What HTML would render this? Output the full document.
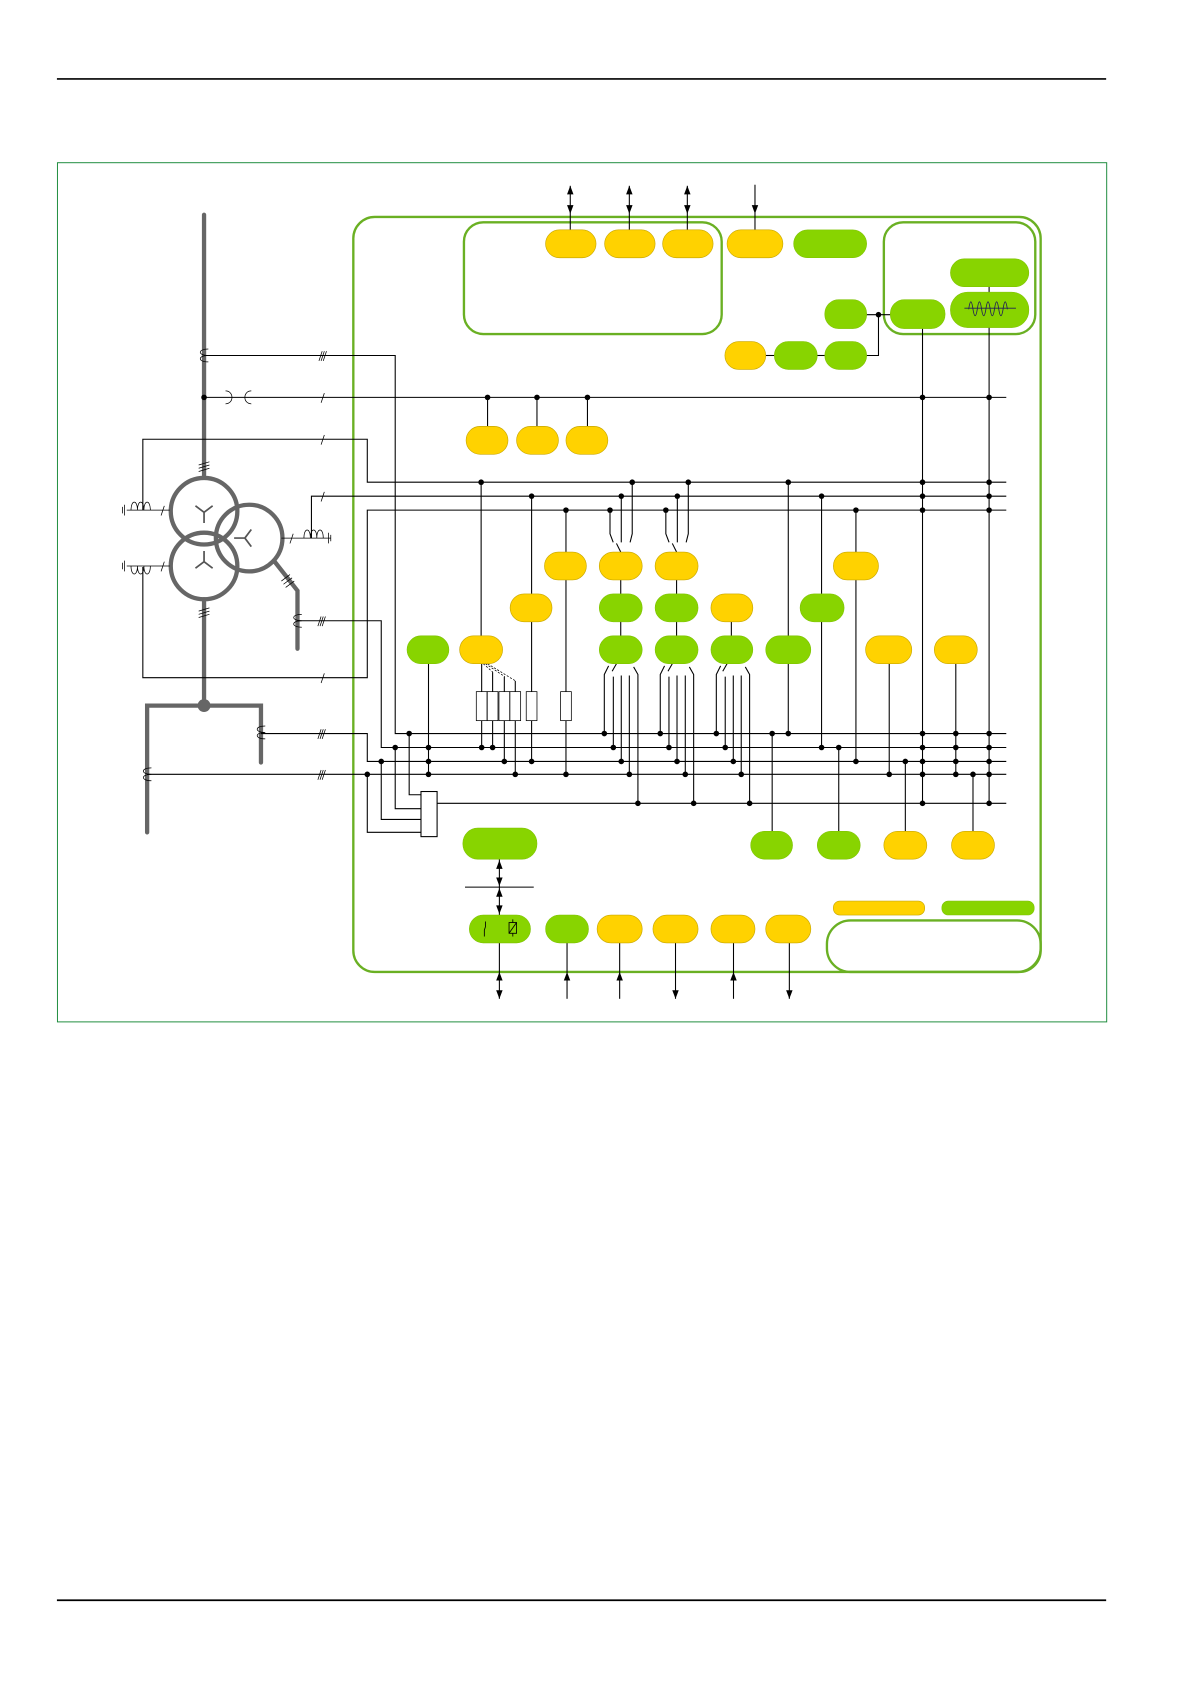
<!DOCTYPE html>
<html><head><meta charset="utf-8"><style>
html,body{margin:0;padding:0;background:#fff;}
svg{display:block;}
.y{fill:#ffd200;stroke:#c9a800;stroke-width:0.6}
.g{fill:#88d400;stroke:#7cc000;stroke-width:0.5}
.w{stroke:#000;stroke-width:1;fill:none}
.t{stroke:#000;stroke-width:0.7;fill:none}
.f{fill:none;stroke:#6ab023;stroke-width:2.2}
.p{stroke:#666;stroke-width:4;fill:none;stroke-linecap:round}
</style></head><body>
<svg width="1191" height="1684" viewBox="0 0 1109 1568" preserveAspectRatio="none" xmlns="http://www.w3.org/2000/svg">
<line x1="53" y1="73.5" x2="1030" y2="73.5" stroke="#000" stroke-width="1.6"/>
<line x1="53" y1="1490" x2="1030" y2="1490" stroke="#000" stroke-width="1.6"/>
<rect x="53.5" y="151.5" width="977" height="800" fill="none" stroke="#1a8a3a" stroke-width="0.9"/>

<rect class="f" x="329" y="202" width="640" height="703" rx="20"/>
<rect class="f" x="432" y="207" width="240" height="104" rx="18"/>
<rect class="f" x="823" y="207" width="141" height="104" rx="18"/>
<rect class="f" x="770" y="857" width="199" height="48" rx="22"/>

<g class="p">
<line x1="190" y1="200" x2="190" y2="443"/>
<line x1="190" y1="558" x2="190" y2="657"/>
<polyline points="137,775 137,657 243,657 243,710"/>
<polyline points="255,522 277,550 277,604"/>
<circle cx="190" cy="476" r="31"/>
<circle cx="232" cy="501" r="31"/>
<circle cx="190" cy="527" r="31"/>
</g>
<circle cx="190" cy="657" r="6" fill="#666"/>
<g stroke="#555" stroke-width="1.6" fill="none">
<path d="M190,477 v10 M190,477 l-8,-6 M190,477 l8,-6"/>
<path d="M190,523 v-10 M190,523 l-8,6 M190,523 l8,6"/>
<path d="M228,501 h-10 M228,501 l6,-8 M228,501 l6,8"/>
</g>
<g class="t">
<path d="M185,433 l10,-3 M185,436 l10,-3 M185,439 l10,-3"/>
<path d="M185,569 l10,-3 M185,572 l10,-3 M185,575 l10,-3"/>
<path d="M262,541 l8,-6 M264,544 l8,-6 M266,547 l8,-6"/>
<path d="M194,325 c-10,0 -10,6 0,6 c-10,0 -10,6 0,6"/>
<path d="M210,364 c8,0 8,12 0,12 M234,364 c-8,0 -8,12 0,12"/>
<path d="M281,572 c-10,0 -10,6 0,6 c-10,0 -10,6 0,6"/>
<path d="M247,676 c-10,0 -10,6 0,6 c-10,0 -10,6 0,6"/>
<path d="M141,715 c-10,0 -10,6 0,6 c-10,0 -10,6 0,6"/>
<path d="M118,475 h40 M122,475 c0,-10 6,-10 6,0 c0,-10 6,-10 6,0 c0,-10 6,-10 6,0 M116,470 v10 M114,472 v6"/>
<path d="M118,527 h40 M122,527 c0,10 6,10 6,0 c0,10 6,10 6,0 c0,10 6,10 6,0"/>
<path d="M116,522 v10 M114,524 v6"/>
<path d="M262,501 h46 M283,501 c0,-10 6,-10 6,0 c0,-10 6,-10 6,0 c0,-10 6,-10 6,0 M306,496 v10 M308,498 v6"/>
<path d="M297,336 l3,-9 M299,336 l3,-9 M301,336 l3,-9"/>
<path d="M299,375 l3,-9"/><path d="M299,414 l3,-9"/><path d="M299,467 l3,-9"/><path d="M299,636 l3,-9"/>
<path d="M150,480 l3,-9"/><path d="M150,532 l3,-9"/><path d="M270,506 l3,-9"/>
<path d="M296,583 l3,-9 M298,583 l3,-9 M300,583 l3,-9"/>
<path d="M296,688 l3,-9 M298,688 l3,-9 M300,688 l3,-9"/>
<path d="M296,726 l3,-9 M298,726 l3,-9 M300,726 l3,-9"/>
</g>

<g class="w">
<line x1="190" y1="370" x2="937" y2="370"/>
<polyline points="133,475 133,409 342,409 342,449 937,449"/>
<polyline points="290,501 290,462 937,462"/>
<polyline points="133,528 133,631 342,631 342,475 937,475"/>
<polyline points="190,331 368,331 368,683 937,683"/>
<polyline points="277,578 355,578 355,696 937,696"/>
<polyline points="243,683 342,683 342,709 937,709"/>
<polyline points="137,721 937,721"/>
<line x1="407" y1="748" x2="937" y2="748"/>
<polyline points="342,721 342,775 392,775"/>
<polyline points="355,709 355,763 392,763"/>
<polyline points="368,696 368,753 392,753"/>
<polyline points="381,683 381,740 392,740"/>
<rect x="392" y="737" width="15" height="42" fill="#fff"/>
<line x1="454" y1="370" x2="454" y2="397"/><line x1="500" y1="370" x2="500" y2="397"/><line x1="547" y1="370" x2="547" y2="397"/>
<line x1="859" y1="306" x2="859" y2="748"/>
<line x1="921" y1="262" x2="921" y2="748"/>
<polyline points="807,293 829,293"/>
<polyline points="807,331 818,331 818,293"/>
<line x1="713" y1="331" x2="721" y2="331"/><line x1="761" y1="331" x2="768" y2="331"/>
<line x1="399" y1="618" x2="399" y2="721"/>
<line x1="448" y1="449" x2="448" y2="592"/>
<line x1="448.5" y1="671" x2="448.5" y2="696"/><line x1="458.7" y1="671" x2="458.7" y2="696"/>
<line x1="469.6" y1="671" x2="469.6" y2="709"/><line x1="479.8" y1="671" x2="479.8" y2="721"/>
<line x1="448.5" y1="618" x2="448.5" y2="644"/><line x1="458.7" y1="626" x2="458.7" y2="644"/>
<line x1="469.6" y1="630" x2="469.6" y2="644"/><line x1="479.8" y1="634" x2="479.8" y2="644"/>
<line x1="495" y1="462" x2="495" y2="553"/><line x1="495" y1="579" x2="495" y2="709"/>
<line x1="527" y1="475" x2="527" y2="514"/><line x1="527" y1="540" x2="527" y2="721"/>
<line x1="578" y1="540" x2="578" y2="592"/><line x1="630" y1="540" x2="630" y2="592"/><line x1="681" y1="579" x2="681" y2="592"/>
<line x1="734" y1="449" x2="734" y2="683"/>
<line x1="765" y1="462" x2="765" y2="553"/><line x1="765" y1="579" x2="765" y2="696"/>
<line x1="797" y1="475" x2="797" y2="709"/>
<line x1="828" y1="618" x2="828" y2="721"/>
<line x1="890" y1="618" x2="890" y2="721"/>
<line x1="719" y1="683" x2="719" y2="774"/>
<line x1="781" y1="696" x2="781" y2="774"/>
<line x1="843" y1="709" x2="843" y2="774"/>
<line x1="906" y1="721" x2="906" y2="774"/>
</g>
<g class="t">
<rect x="443.5" y="644" width="10" height="27" fill="#fff"/><rect x="453.7" y="644" width="10" height="27" fill="#fff"/>
<rect x="464.6" y="644" width="10" height="27" fill="#fff"/><rect x="474.8" y="644" width="10" height="27" fill="#fff"/>
<rect x="490" y="644" width="10" height="27" fill="#fff"/><rect x="522" y="644" width="10" height="27" fill="#fff"/>
<path d="M450,618 l9,8 M452,618 l18,12 M454,618 l26,16" stroke-dasharray="2,1.5"/>
</g>
<g class="w">
<path d="M568,475 v22 l3,8 M578.5,462 v43 M588.7,449 v48 l-2,8"/>
<path d="M574,506 l4,8"/>
<path d="M620,475 v22 l3,8 M630.7,462 v43 M640.9,449 v48 l-2,8"/>
<path d="M626,506 l4,8"/>
<path d="M562.7,683 v-55 l4,-8 M571.1,696 v-66 M578.5,709 v-80 M586,721 v-92 M594,748 v-120 l-4,-7"/>
<path d="M574,618 l-4,7"/>
<path d="M614.8,683 v-55 l4,-8 M622.9,696 v-66 M630.4,709 v-80 M638.1,721 v-92 M645.9,748 v-120 l-4,-7"/>
<path d="M626,618 l-4,7"/>
<path d="M667,683 v-55 l4,-8 M675.3,696 v-66 M682.8,709 v-80 M690.2,721 v-92 M698,748 v-120 l-4,-7"/>
<path d="M677,618 l-4,7"/>
</g>
<g fill="#000">
<circle cx="190" cy="370" r="2.6"/><circle cx="454" cy="370" r="2.6"/><circle cx="500" cy="370" r="2.6"/><circle cx="547" cy="370" r="2.6"/>
<circle cx="859" cy="370" r="2.6"/><circle cx="921" cy="370" r="2.6"/><circle cx="818" cy="293" r="2.6"/>
<circle cx="448" cy="449" r="2.6"/><circle cx="588.7" cy="449" r="2.6"/><circle cx="640.9" cy="449" r="2.6"/><circle cx="734" cy="449" r="2.6"/><circle cx="859" cy="449" r="2.6"/><circle cx="921" cy="449" r="2.6"/>
<circle cx="495" cy="462" r="2.6"/><circle cx="578.5" cy="462" r="2.6"/><circle cx="630.7" cy="462" r="2.6"/><circle cx="765" cy="462" r="2.6"/><circle cx="859" cy="462" r="2.6"/><circle cx="921" cy="462" r="2.6"/>
<circle cx="527" cy="475" r="2.6"/><circle cx="568" cy="475" r="2.6"/><circle cx="620" cy="475" r="2.6"/><circle cx="797" cy="475" r="2.6"/><circle cx="859" cy="475" r="2.6"/><circle cx="921" cy="475" r="2.6"/>
<circle cx="381" cy="683" r="2.6"/><circle cx="562.7" cy="683" r="2.6"/><circle cx="614.8" cy="683" r="2.6"/><circle cx="667" cy="683" r="2.6"/><circle cx="719" cy="683" r="2.6"/><circle cx="734" cy="683" r="2.6"/><circle cx="859" cy="683" r="2.6"/><circle cx="890" cy="683" r="2.6"/><circle cx="921" cy="683" r="2.6"/>
<circle cx="368" cy="696" r="2.6"/><circle cx="399" cy="696" r="2.6"/><circle cx="448.5" cy="696" r="2.6"/><circle cx="458.7" cy="696" r="2.6"/><circle cx="571.1" cy="696" r="2.6"/><circle cx="622.9" cy="696" r="2.6"/><circle cx="675.3" cy="696" r="2.6"/><circle cx="765" cy="696" r="2.6"/><circle cx="781" cy="696" r="2.6"/><circle cx="859" cy="696" r="2.6"/><circle cx="890" cy="696" r="2.6"/><circle cx="921" cy="696" r="2.6"/>
<circle cx="355" cy="709" r="2.6"/><circle cx="399" cy="709" r="2.6"/><circle cx="469.6" cy="709" r="2.6"/><circle cx="495" cy="709" r="2.6"/><circle cx="578.5" cy="709" r="2.6"/><circle cx="630.4" cy="709" r="2.6"/><circle cx="682.8" cy="709" r="2.6"/><circle cx="797" cy="709" r="2.6"/><circle cx="843" cy="709" r="2.6"/><circle cx="859" cy="709" r="2.6"/><circle cx="890" cy="709" r="2.6"/><circle cx="921" cy="709" r="2.6"/>
<circle cx="342" cy="721" r="2.6"/><circle cx="399" cy="721" r="2.6"/><circle cx="479.8" cy="721" r="2.6"/><circle cx="527" cy="721" r="2.6"/><circle cx="586" cy="721" r="2.6"/><circle cx="638.1" cy="721" r="2.6"/><circle cx="690.2" cy="721" r="2.6"/><circle cx="828" cy="721" r="2.6"/><circle cx="859" cy="721" r="2.6"/><circle cx="890" cy="721" r="2.6"/><circle cx="906" cy="721" r="2.6"/><circle cx="921" cy="721" r="2.6"/>
<circle cx="594" cy="748" r="2.6"/><circle cx="645.9" cy="748" r="2.6"/><circle cx="698" cy="748" r="2.6"/><circle cx="859" cy="748" r="2.6"/><circle cx="921" cy="748" r="2.6"/>
</g>

<g class="w">
<line x1="531" y1="173" x2="531" y2="214"/>
<line x1="586" y1="173" x2="586" y2="214"/><line x1="640" y1="173" x2="640" y2="214"/>
<line x1="703" y1="172" x2="703" y2="214"/>
</g>
<g fill="#000">
<path d="M531,173 l-3,8 h6z M531,199 l-3,-8 h6z"/>
<path d="M586,173 l-3,8 h6z M586,199 l-3,-8 h6z"/>
<path d="M640,173 l-3,8 h6z M640,199 l-3,-8 h6z"/>
<path d="M703,199 l-3,-8 h6z"/>
</g>
<g class="w">
<line x1="465" y1="800" x2="465" y2="852"/><line x1="433" y1="826" x2="497" y2="826"/>
<line x1="465" y1="878" x2="465" y2="930"/>
<line x1="528" y1="878" x2="528" y2="930"/><line x1="577" y1="878" x2="577" y2="930"/>
<line x1="629" y1="878" x2="629" y2="930"/><line x1="683" y1="878" x2="683" y2="930"/><line x1="735" y1="878" x2="735" y2="930"/>
</g>
<g fill="#000">
<path d="M465,801 l-3,8 h6z M465,825 l-3,-8 h6z M465,827 l-3,8 h6z M465,851 l-3,-8 h6z"/>
<path d="M465,905 l-3,8 h6z M465,930 l-3,-8 h6z"/>
<path d="M528,905 l-3,8 h6z"/><path d="M577,905 l-3,8 h6z"/><path d="M629,930 l-3,-8 h6z"/><path d="M683,905 l-3,8 h6z"/><path d="M735,930 l-3,-8 h6z"/>
</g>

<rect class="y" x="508" y="214" width="47" height="26" rx="13"/>
<rect class="y" x="563" y="214" width="47" height="26" rx="13"/>
<rect class="y" x="617" y="214" width="47" height="26" rx="13"/>
<rect class="y" x="677" y="214" width="52" height="26" rx="13"/>
<rect class="g" x="739" y="214" width="68" height="26" rx="13"/>
<rect class="g" x="885" y="241" width="73" height="26" rx="13"/>
<rect class="g" x="885" y="272" width="73" height="33" rx="16"/>
<rect class="g" x="829" y="279" width="51" height="27" rx="13"/>
<rect class="g" x="768" y="279" width="39" height="27" rx="13"/>
<rect class="y" x="675" y="318" width="38" height="26" rx="13"/>
<rect class="g" x="721" y="318" width="40" height="26" rx="13"/>
<rect class="g" x="768" y="318" width="39" height="26" rx="13"/>
<path d="M898,287 h48 M902,288 q2,-14 4,0 q2,12 4,0 q2,-14 4,0 q2,12 4,0 q2,-14 4,0 q2,12 4,0 q2,-14 4,0 q2,12 4,0 q2,-14 4,0" stroke="#225" stroke-width="0.8" fill="none"/>

<rect class="y" x="434" y="397" width="39" height="26" rx="13"/>
<rect class="y" x="481" y="397" width="39" height="26" rx="13"/>
<rect class="y" x="527" y="397" width="39" height="26" rx="13"/>

<rect class="y" x="507" y="514" width="39" height="26" rx="13"/>
<rect class="y" x="558" y="514" width="40" height="26" rx="13"/>
<rect class="y" x="610" y="514" width="40" height="26" rx="13"/>
<rect class="y" x="776" y="514" width="42" height="26" rx="13"/>

<rect class="y" x="475" y="553" width="39" height="26" rx="13"/>
<rect class="g" x="558" y="553" width="40" height="26" rx="13"/>
<rect class="g" x="610" y="553" width="40" height="26" rx="13"/>
<rect class="y" x="662" y="553" width="39" height="26" rx="13"/>
<rect class="g" x="745" y="553" width="41" height="26" rx="13"/>

<rect class="g" x="379" y="592" width="39" height="26" rx="13"/>
<rect class="y" x="428" y="592" width="40" height="26" rx="13"/>
<rect class="g" x="558" y="592" width="40" height="26" rx="13"/>
<rect class="g" x="610" y="592" width="40" height="26" rx="13"/>
<rect class="g" x="662" y="592" width="39" height="26" rx="13"/>
<rect class="g" x="713" y="592" width="42" height="26" rx="13"/>
<rect class="y" x="806" y="592" width="43" height="26" rx="13"/>
<rect class="y" x="870" y="592" width="40" height="26" rx="13"/>

<rect class="g" x="431" y="771" width="69" height="29" rx="14"/>
<rect class="g" x="699" y="774" width="39" height="26" rx="13"/>
<rect class="g" x="761" y="774" width="40" height="26" rx="13"/>
<rect class="y" x="823" y="774" width="40" height="26" rx="13"/>
<rect class="y" x="886" y="774" width="40" height="26" rx="13"/>

<rect class="y" x="776" y="839" width="85" height="13" rx="6"/>
<rect class="g" x="877" y="839" width="86" height="13" rx="6"/>

<rect class="g" x="437" y="852" width="57" height="26" rx="13"/>
<rect class="g" x="508" y="852" width="40" height="26" rx="13"/>
<rect class="y" x="556" y="852" width="42" height="26" rx="13"/>
<rect class="y" x="608" y="852" width="42" height="26" rx="13"/>
<rect class="y" x="662" y="852" width="41" height="26" rx="13"/>
<rect class="y" x="713" y="852" width="42" height="26" rx="13"/>
<g stroke="#000" stroke-width="0.8" fill="none">
<path d="M452,858 v5 l-1,3 v6"/>
<rect x="474" y="859" width="7" height="10"/><path d="M474,869 l7,-10 M477.5,856 v3 M477.5,869 v3"/>
</g>
</svg>
</body></html>
